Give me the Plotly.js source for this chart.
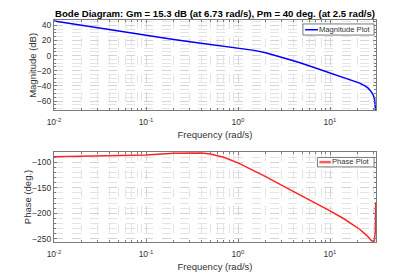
<!DOCTYPE html>
<html><head><meta charset="utf-8">
<script src="https://cdn.plot.ly/plotly-3.0.1.min.js"></script>
<style>html,body{margin:0;padding:0;background:#fff}#chart{width:415px;height:277px}</style>
</head><body><div id="chart"></div>
<script>
// Magnitude plot
const magFreq = [0.01, 0.02, 0.05, 0.1, 0.2, 0.3, 0.5, 0.7, 1, 1.5, 2, 3, 4, 5, 7, 10, 14, 18, 21, 24, 26, 28, 29.5, 30.5, 31.1, 31.4];
const magDb   = [45.7, 40.0, 32.0, 26.2, 21.2, 18.3, 15.0, 12.8, 10.3, 6.9, 3.8, -2.0, -6.8, -10.5, -16.5, -22.5, -28.5, -33.0, -36.3, -40.0, -43.0, -47.5, -52.0, -57.0, -64.0, -75.0];
// Phase plot
const phaseFreq = [0.01, 0.03, 0.1, 0.2, 0.3, 0.4, 0.5, 0.7, 1, 1.5, 2, 3, 5, 7, 10, 14, 18, 21, 25, 28.5, 30.3, 31.1, 31.4];
const phaseDeg  = [-89, -88, -85.5, -82, -81, -81.5, -83.5, -90, -101, -116, -128, -145, -166, -180, -195, -210, -222, -231, -243, -254, -254, -235, -178];
// Axis ticks and texts
const xTickVals = [0.01, 0.1, 1, 10];
const xTickText = ['10<sup>-2</sup>', '10<sup>-1</sup>', '10<sup>0</sup>', '10<sup>1</sup>'];
const magTickVals = [-60, -40, -20, 0, 20, 40];
const phaseTickVals = [-250, -200, -150, -100];
const titleText = '<b>Bode Diagram: Gm = 15.3 dB (at 6.73 rad/s), Pm = 40 deg. (at 2.5 rad/s)</b>';
const xTitle = 'Frequency (rad/s)';
const yTitles = ['Magnitude (dB)', 'Phase (deg.)'];
const seriesNames = ['Magnitude Plot', 'Phase Plot'];
const seriesColors = ['#0000ff', '#ff2424'];

const minorVals = [];
for (let k = -2; k <= 1; k++) for (let m = 2; m <= 9; m++) minorVals.push(m * Math.pow(10, k));

const axisCol = '#7a7a7a';
const txtCol = '#333333';
const tickSize = 8.5, labSize = 9.5;
function xax(anchor) {
  return {
    type: 'log', range: [-2, 1.5], anchor: anchor,
    tickmode: 'array', tickvals: xTickVals, ticktext: xTickText,
    showline: true, linecolor: axisCol, linewidth: 1, mirror: 'allticks',
    ticks: 'inside', ticklen: 3, tickcolor: axisCol, ticklabelstandoff: 4,
    showgrid: true, gridcolor: '#d4d4d4', griddash: 'dash', gridwidth: 1,
    minor: {tickmode: 'array', tickvals: minorVals, ticks: 'inside', ticklen: 2, tickcolor: axisCol,
            showgrid: true, gridcolor: '#e4e4e4', griddash: 'dash'},
    zeroline: false,
    tickfont: {size: tickSize, color: txtCol},
    title: {text: xTitle, font: {size: labSize, color: txtCol}, standoff: 5}
  };
}
function yax(domain, range, tv, minorD, anchor) {
  return {
    domain: domain, range: range, anchor: anchor,
    tickmode: 'array', tickvals: tv,
    showline: true, linecolor: axisCol, linewidth: 1, mirror: 'allticks',
    ticks: 'inside', ticklen: 3, tickcolor: axisCol,
    showgrid: true, gridcolor: '#d4d4d4', griddash: 'dash',
    minor: {dtick: minorD, ticks: 'inside', ticklen: 2, tickcolor: axisCol,
            showgrid: true, gridcolor: '#e4e4e4', griddash: 'dash'},
    zeroline: false,
    tickfont: {size: tickSize, color: txtCol}
  };
}

const data = [
  {x: magFreq, y: magDb, type: 'scatter', mode: 'lines', name: seriesNames[0],
   line: {color: seriesColors[0], width: 1.5}, xaxis: 'x', yaxis: 'y', showlegend: false},
  {x: phaseFreq, y: phaseDeg, type: 'scatter', mode: 'lines', name: seriesNames[1],
   line: {color: seriesColors[1], width: 1.5}, xaxis: 'x2', yaxis: 'y2', showlegend: false}
];

// Legend boxes drawn as shapes + text (MATLAB-style compact legends)
const shapes = [
  {type: 'rect', xref: 'x domain', yref: 'y domain', x0: 0.773, x1: 0.994, y0: 0.833, y1: 0.956,
   line: {color: axisCol, width: 1}, fillcolor: '#ffffff', layer: 'above'},
  {type: 'line', xref: 'x domain', yref: 'y domain', x0: 0.780, x1: 0.820, y0: 0.892, y1: 0.892,
   line: {color: seriesColors[0], width: 1.5}, layer: 'above'},
  {type: 'rect', xref: 'x2 domain', yref: 'y2 domain', x0: 0.818, x1: 0.994, y0: 0.833, y1: 0.938,
   line: {color: axisCol, width: 1}, fillcolor: '#ffffff', layer: 'above'},
  {type: 'line', xref: 'x2 domain', yref: 'y2 domain', x0: 0.824, x1: 0.860, y0: 0.886, y1: 0.886,
   line: {color: '#ff5c5c', width: 2.5}, layer: 'above'}
];
const annotations = [
  {xref: 'x domain', yref: 'y domain', x: 0.819, y: 0.894, xanchor: 'left', yanchor: 'middle',
   text: seriesNames[0], showarrow: false, borderpad: 0, font: {size: 7.6, color: txtCol}},
  {xref: 'x2 domain', yref: 'y2 domain', x: 0.861, y: 0.888, xanchor: 'left', yanchor: 'middle',
   text: seriesNames[1], showarrow: false, borderpad: 0, font: {size: 7.6, color: txtCol}},
  {xref: 'paper', yref: 'y domain', x: -0.069, y: 0.5, xanchor: 'center', yanchor: 'middle', textangle: -90,
   text: yTitles[0], showarrow: false, borderpad: 0, font: {size: labSize, color: txtCol}},
  {xref: 'paper', yref: 'y2 domain', x: -0.080, y: 0.5, xanchor: 'center', yanchor: 'middle', textangle: -90,
   text: yTitles[1], showarrow: false, borderpad: 0, font: {size: labSize, color: txtCol}}
];

const layout = {
  width: 415, height: 277,
  margin: {l: 54, r: 39, t: 20, b: 35},
  paper_bgcolor: '#ffffff', plot_bgcolor: '#ffffff',
  font: {family: 'Liberation Sans, Arial, sans-serif', color: txtCol},
  title: {text: titleText, font: {size: 9.6, color: '#000000'}, x: 0.5, xref: 'paper', xanchor: 'center', y: 0.95, yanchor: 'middle'},
  showlegend: false,
  xaxis: xax('y'),
  yaxis: yax([0.594, 1], [-72, 47], magTickVals, 5, 'x'),
  xaxis2: xax('y2'),
  yaxis2: yax([0, 0.406], [-256, -79.5], phaseTickVals, 10, 'x2'),
  shapes: shapes,
  annotations: annotations
};

Plotly.newPlot('chart', data, layout, {displayModeBar: false, staticPlot: true});
</script>
</body></html>
